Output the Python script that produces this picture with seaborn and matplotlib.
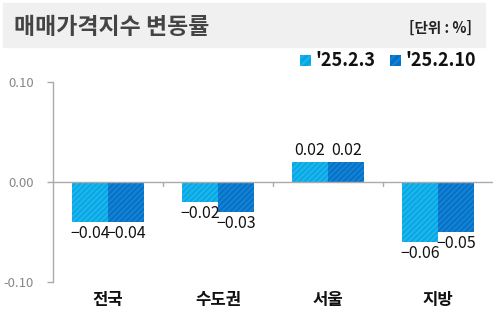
import matplotlib
matplotlib.use("Agg")
import matplotlib.pyplot as plt
import seaborn as sns
import pandas as pd

regions = ["전국", "수도권", "서울", "지방"]
week1 = [-0.04, -0.02, 0.02, -0.06]
week2 = [-0.04, -0.03, 0.02, -0.05]
series_names = ["'25.2.3", "'25.2.10"]
yticks = [-0.10, 0.00, 0.10]
ytick_labels = ["-0.10", "0.00", "0.10"]

colors = ["#00A8E6", "#0071C9"]
stripe = ["#22B3EA", "#1880D0"]

sns.set_theme(style="white")
plt.rcParams["font.family"] = ["Noto Sans CJK KR", "DejaVu Sans"]
plt.rcParams["hatch.linewidth"] = 1.6

df = pd.DataFrame({
    "region": regions * 2,
    "value": week1 + week2,
    "series": [series_names[0]] * 4 + [series_names[1]] * 4,
})

fig = plt.figure(figsize=(4.95, 3.22), dpi=100)
ax = fig.add_axes([53 / 495, 1 - 282 / 322, 440 / 495, 200 / 322])

sns.barplot(data=df, x="region", y="value", hue="series", order=regions,
            hue_order=series_names, palette=colors, width=0.66, gap=0,
            saturation=1, legend=False, ax=ax)

for i, cont in enumerate(ax.containers):
    for bar, v in zip(cont, [week1, week2][i]):
        bar.set_hatch("//////")
        bar.set_edgecolor(stripe[i])
        bar.set_linewidth(0)
        x = bar.get_x() + bar.get_width() / 2
        txt = f"{v:.2f}".replace("-", "\u2212")
        if v >= 0:
            ax.annotate(txt, (x, v), xytext=(0, 2), textcoords="offset points",
                        ha="center", va="bottom", fontsize=11.5, fontweight="medium",
                        color="#111111")
        else:
            ax.annotate(txt, (x, v), xytext=(0, -2.5), textcoords="offset points",
                        ha="center", va="top", fontsize=11.5, fontweight="medium",
                        color="#111111")

ax.set_xlim(-0.5, 3.5)
ax.set_ylim(-0.10, 0.10)
ax.set_yticks(yticks)
ax.set_yticklabels(ytick_labels, color="#888888", fontsize=9.5)
ax.tick_params(axis="y", length=4, width=1, color="#aaaaaa", pad=10,
               direction="out", left=True)
ax.set_xticks([])
ax.set_xlabel("")
ax.set_ylabel("")
for s in ["top", "right", "bottom"]:
    ax.spines[s].set_visible(False)
ax.spines["left"].set_color("#aaaaaa")
ax.spines["left"].set_linewidth(1)

# zero line with category separator ticks
ax.axhline(0, color="#aaaaaa", lw=1, zorder=1)
for xs in [0.5, 1.5, 2.5]:
    ax.plot([xs, xs], [0, -0.004], color="#aaaaaa", lw=1, clip_on=False, zorder=1)

# category labels
for i, r in enumerate(regions):
    ax.text(i, -0.118, r, ha="center", va="center", fontsize=12,
            fontweight="bold", color="#111111")

# header band
fig.patches.append(plt.Rectangle((3 / 495, 1 - 47 / 322), 482 / 495, 44 / 322,
                                 transform=fig.transFigure, color="#F0F0F0", zorder=0))
fig.text(14 / 495, 1 - 27 / 322, "매매가격지수 변동률", fontsize=16.5, fontweight="bold",
         color="#444444", va="center", ha="left")
fig.text(472 / 495, 1 - 28 / 322, "[단위 : %]", fontsize=10.5, fontweight="bold",
         color="#222222", va="center", ha="right")

# legend
leg_items = [(300, series_names[0], 0), (390, series_names[1], 1)]
for xpx, name, k in leg_items:
    fig.patches.append(plt.Rectangle((xpx / 495, 1 - 66 / 322), 11 / 495, 11 / 322,
                                     transform=fig.transFigure, facecolor=colors[k],
                                     edgecolor=stripe[k], hatch="////", linewidth=0))
    fig.text((xpx + 15) / 495, 1 - 60 / 322, name, fontsize=13, fontweight="bold",
             color="#111111", va="center", ha="left")

fig.savefig("out.png", dpi=100)
